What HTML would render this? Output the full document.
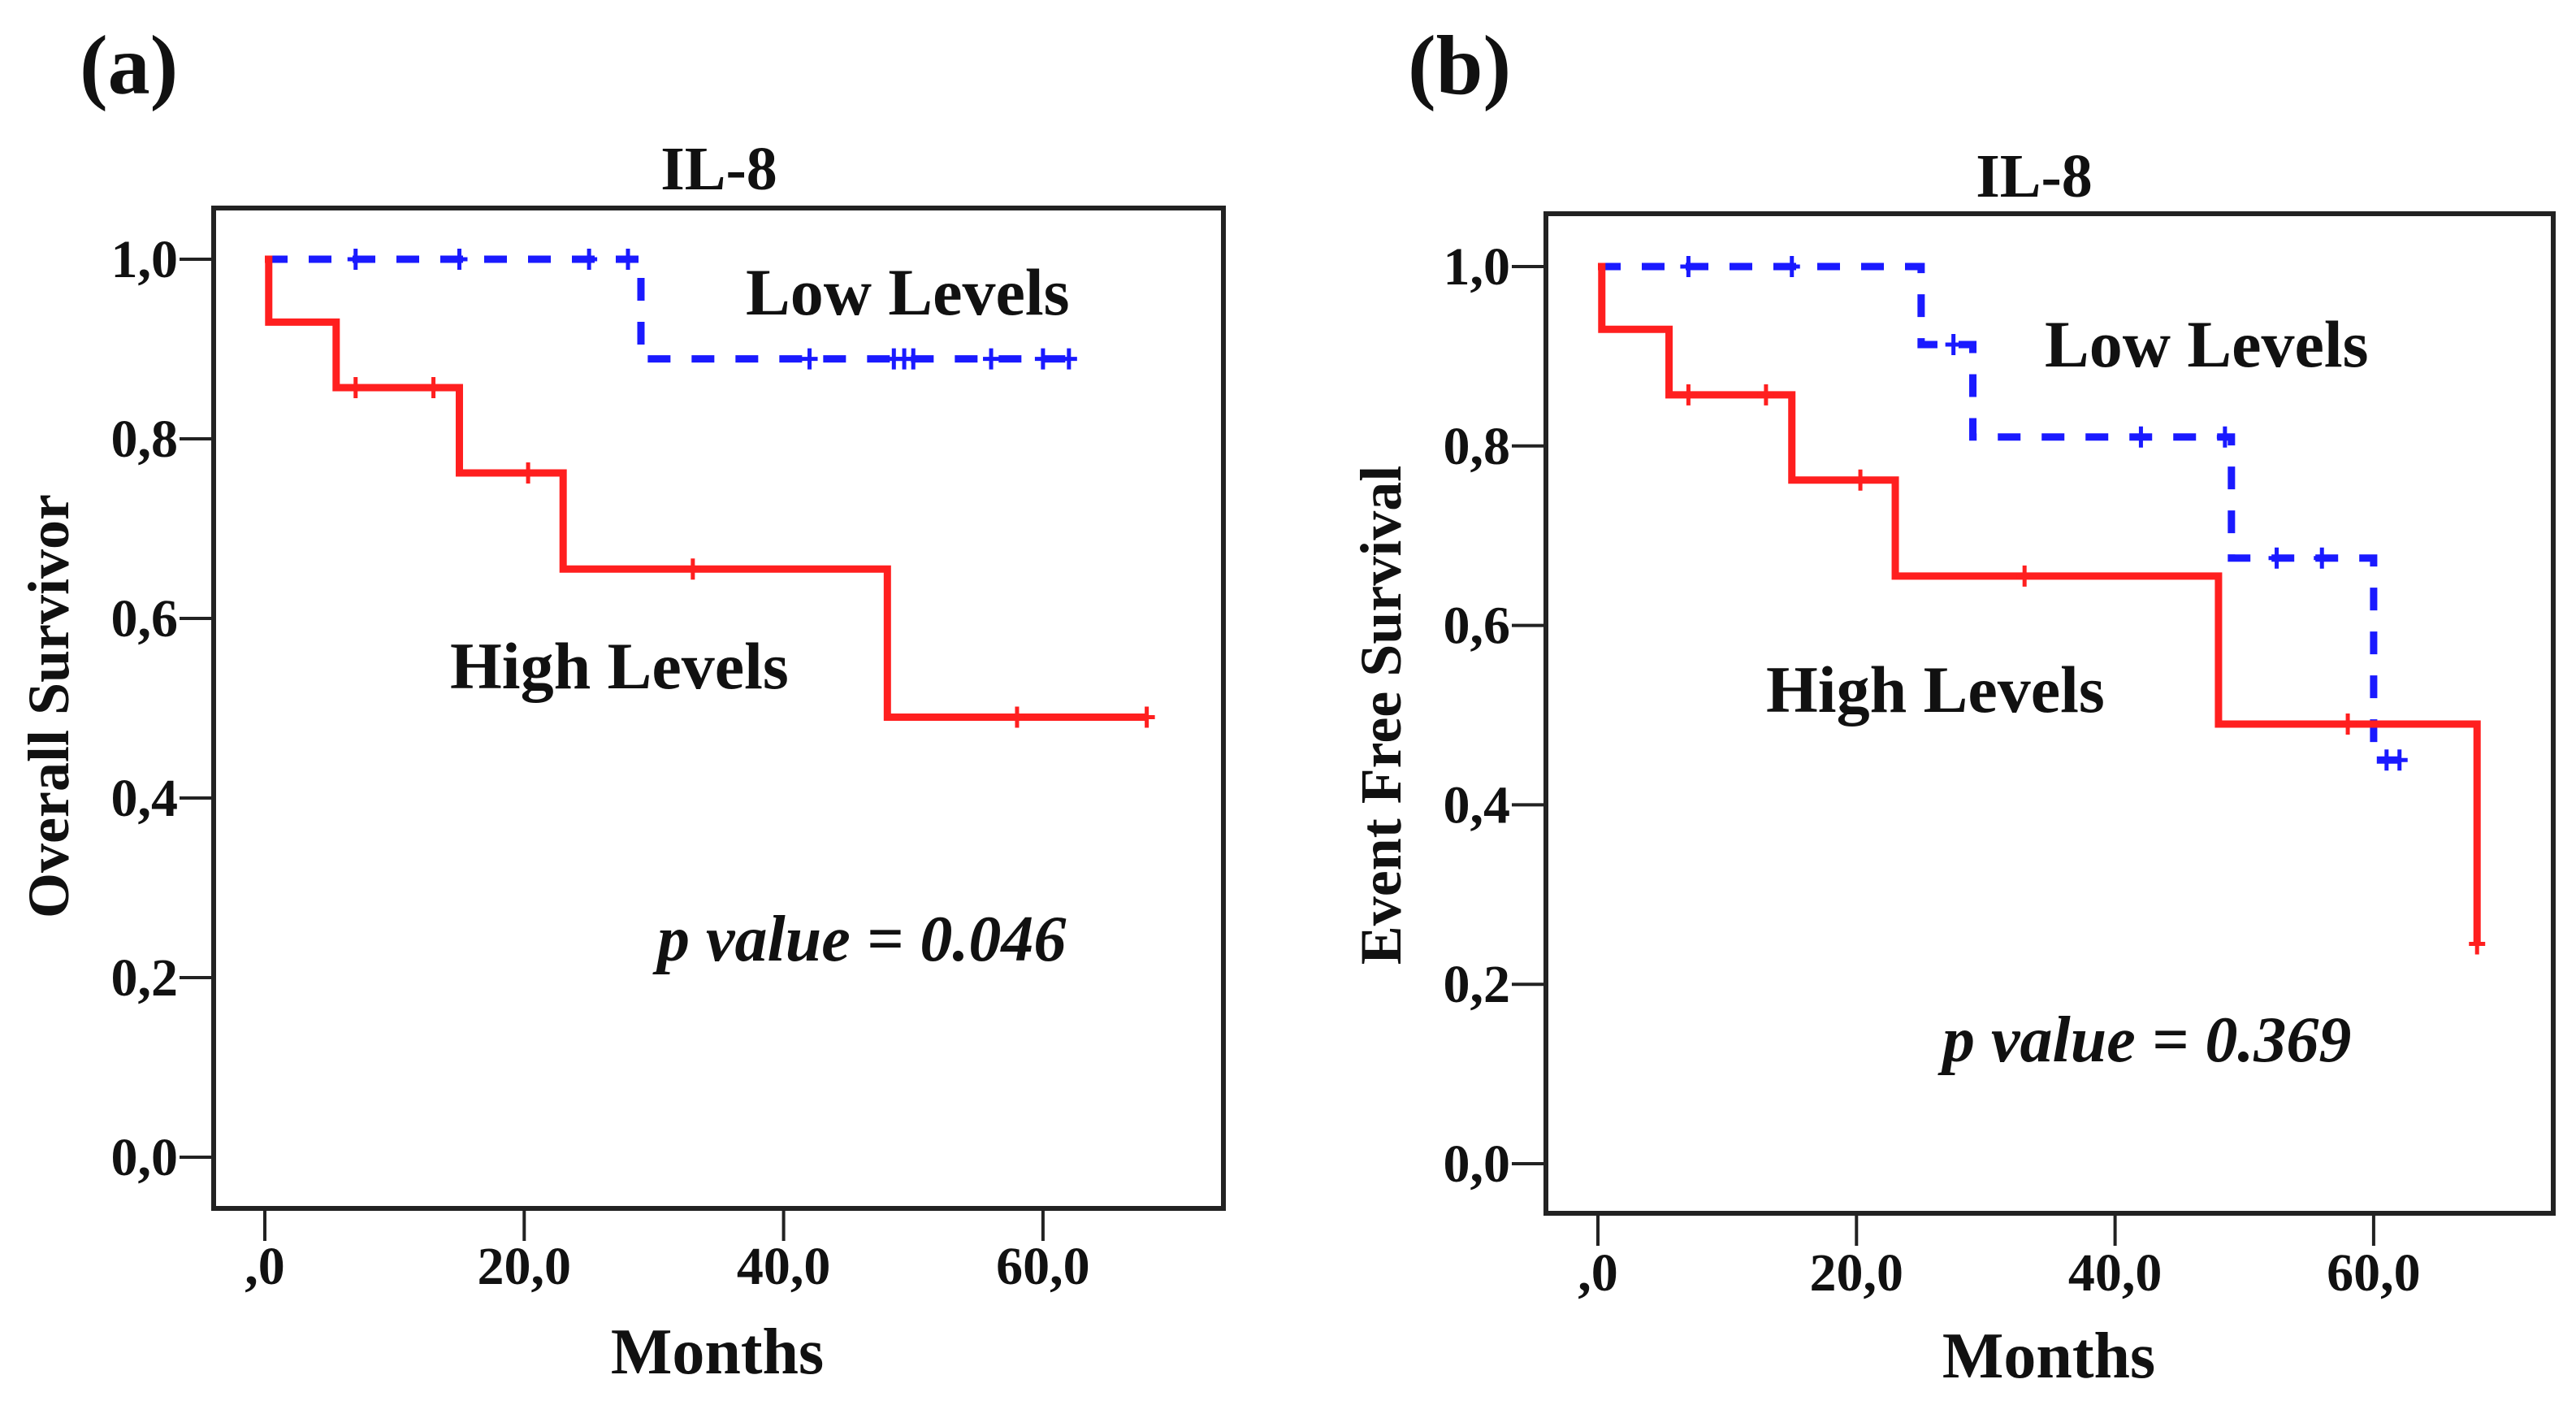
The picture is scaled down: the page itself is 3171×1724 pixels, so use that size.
<!DOCTYPE html>
<html><head><meta charset="utf-8"><style>
html,body{margin:0;padding:0;background:#fff;}
svg{display:block;}
text{font-family:"Liberation Serif",serif;font-weight:bold;fill:#111;}
</style></head><body>
<svg id="chart" width="3171" height="1724" viewBox="0 0 3171 1724" xmlns="http://www.w3.org/2000/svg"></svg>
<script>
// ---- data ----
const xTicks = [0, 20, 40, 60];
const xTickLabels = [",0", "20,0", "40,0", "60,0"];
const yTicks = [0, 0.2, 0.4, 0.6, 0.8, 1.0];
const yTickLabels = ["0,0", "0,2", "0,4", "0,6", "0,8", "1,0"];

// Panel a - overall survival
const aHighTimes = [0, 0.3, 5.5, 15, 23, 48, 68];
const aHighSurv  = [1.0, 0.93, 0.857, 0.762, 0.655, 0.49, 0.49];
const aHighCensT = [7, 13, 20.3, 33, 58, 68];
const aLowTimes = [0, 29, 62.5];
const aLowSurv  = [1.0, 0.889, 0.889];
const aLowCensT = [7, 15, 25, 28, 42, 48.5, 49.3, 50, 56, 60, 62];

// Panel b - event free survival
const bHighTimes = [0, 0.3, 5.5, 15, 23, 48, 68, 68];
const bHighSurv  = [1.0, 0.93, 0.857, 0.762, 0.655, 0.49, 0.49, 0.245];
const bHighCensT = [7, 13, 20.3, 33, 58, 68];
const bLowTimes = [0, 25, 29, 49, 60, 62];
const bLowSurv  = [1.0, 0.913, 0.81, 0.675, 0.45, 0.45];
const bLowCensT = [7, 15, 27.5, 42, 48.5, 52.5, 56, 61, 62];

const NS = "http://www.w3.org/2000/svg";
const svg = document.getElementById("chart");
function el(tag, attrs, parent) {
  const e = document.createElementNS(NS, tag);
  for (const k in attrs) e.setAttribute(k, attrs[k]);
  (parent || svg).appendChild(e);
  return e;
}
function stepAt(times, surv, t) {
  let s = surv[0];
  for (let i = 0; i < times.length; i++) if (times[i] <= t) s = surv[i];
  return s;
}

function panel(cfg) {
  const g = el("g", {});
  
  
  const X = t => cfg.x0 + (t / 20) * cfg.xs;
  const Y = v => cfg.y0 - v * (cfg.y0 - cfg.y1);

  const box = el("rect", {x: cfg.bx, y: cfg.by, width: cfg.bw, height: cfg.bh, fill: "none", stroke: "#222", "stroke-width": 6}, g);
  
  

  yTicks.forEach((v, i) => {
    const tk = el("line", {x1: cfg.bx - 42, x2: cfg.bx, y1: Y(v), y2: Y(v), stroke: "#222", "stroke-width": 4}, g);
    
    
    const t = el("text", {x: cfg.bx - 44, y: Y(v) + 22, "font-size": 66, "text-anchor": "end"}, g);
    t.textContent = yTickLabels[i];
    
    
  });
  xTicks.forEach((v, i) => {
    const tk = el("line", {x1: X(v), x2: X(v), y1: cfg.by + cfg.bh, y2: cfg.by + cfg.bh + 40, stroke: "#222", "stroke-width": 4}, g);
    
    
    const t = el("text", {x: X(v), y: cfg.xlY, "font-size": 66, "text-anchor": "middle"}, g);
    t.textContent = xTickLabels[i];
    
    
  });

  function curve(times, surv, cens, color, dashed, name) {
    let d = "M" + X(times[0]) + "," + Y(surv[0]);
    for (let i = 1; i < times.length; i++) {
      d += " L" + X(times[i]) + "," + Y(surv[i - 1]) + " L" + X(times[i]) + "," + Y(surv[i]);
    }
    const attrs = {d: d, fill: "none", stroke: color, "stroke-width": 9};
    if (dashed) attrs["stroke-dasharray"] = "28 26";
    const p = el("path", attrs, g);
    
    
    cens.forEach(t => {
      const cx = X(t), cy = Y(stepAt(times, surv, t));
      const c = el("path", {d: `M${cx - 10},${cy} L${cx + 10},${cy} M${cx},${cy - 13} L${cx},${cy + 13}`, stroke: color, "stroke-width": 5}, g);
      
      
    });
  }
  curve(cfg.lowT, cfg.lowS, cfg.lowC, "#1a1aff", true, "low-levels-curve");
  curve(cfg.highT, cfg.highS, cfg.highC, "#ff1f1f", false, "high-levels-curve");

  const texts = [
    [cfg.letter, cfg.letterX, 115, 104, "start", "panel-label"],
    ["IL-8", cfg.titleX, cfg.titleY, 76, "middle", "chart-title"],
    ["Low Levels", cfg.lowLX, cfg.lowLY, 82, "start", "low-levels-label"],
    ["High Levels", cfg.highLX, cfg.highLY, 82, "start", "high-levels-label"],
    ["Months", cfg.monthsX, cfg.monthsY, 80, "middle", "x-axis-title"],
  ];
  texts.forEach(([s, x, y, fs, anc, nm]) => {
    const t = el("text", {x: x, y: y, "font-size": fs, "text-anchor": anc}, g);
    t.textContent = s;
    
    
  });
  const pv = el("text", {x: cfg.pX, y: cfg.pY, "font-size": 80, "font-style": "italic"}, g);
  pv.textContent = cfg.pText;
  
  
  const yt = el("text", {x: 0, y: 0, "font-size": 72, "text-anchor": "middle", transform: `translate(${cfg.ytX},${cfg.ytY}) rotate(-90)`}, g);
  yt.textContent = cfg.yTitle;
  
  
}

panel({name: "panel-a", letter: "(a)", letterX: 98,
  bx: 263, by: 256, bw: 1243, bh: 1231,
  x0: 326, xs: 319.3, y0: 1424, y1: 319,
  lowT: aLowTimes, lowS: aLowSurv, lowC: aLowCensT,
  highT: aHighTimes, highS: aHighSurv, highC: aHighCensT,
  titleX: 885, titleY: 233, lowLX: 918, lowLY: 387, highLX: 554, highLY: 847,
  pX: 809, pY: 1182, pText: "p value = 0.046", xlY: 1580,
  monthsX: 883, monthsY: 1690, ytX: 84, ytY: 869, yTitle: "Overall Survivor"});

panel({name: "panel-b", letter: "(b)", letterX: 1733,
  bx: 1903, by: 263, bw: 1240, bh: 1230,
  x0: 1967, xs: 318.3, y0: 1432, y1: 328,
  lowT: bLowTimes, lowS: bLowSurv, lowC: bLowCensT,
  highT: bHighTimes, highS: bHighSurv, highC: bHighCensT,
  titleX: 2504, titleY: 242, lowLX: 2517, lowLY: 451, highLX: 2174, highLY: 876,
  pX: 2391, pY: 1306, pText: "p  value = 0.369", xlY: 1588,
  monthsX: 2522, monthsY: 1695, ytX: 1724, ytY: 880, yTitle: "Event Free Survival"});
</script>
</body></html>
